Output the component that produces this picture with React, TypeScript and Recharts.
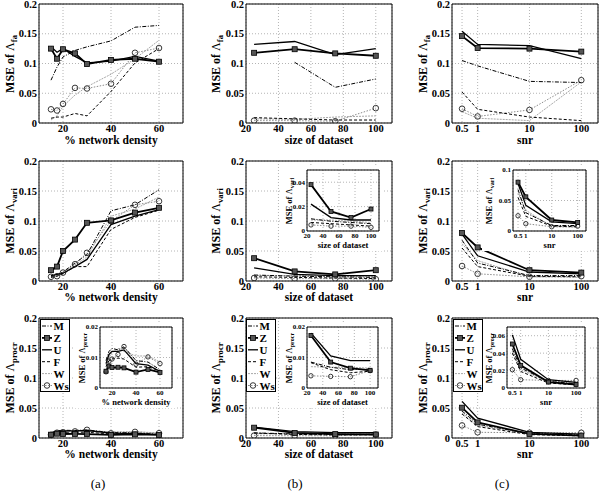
import React from 'react';
import { LineChart, Line, XAxis, YAxis, CartesianGrid, ReferenceArea } from 'recharts';

// x positions of the three sweeps
const densityX = [15, 17.5, 20, 25, 30, 40, 50, 60];
const datasetX = [25, 50, 75, 100];
const snrX = [0.5, 1, 10, 100];

const densityTicks = [20, 40, 60];
const datasetTicks = [20, 40, 60, 80, 100];
const snrTicks = [0.5, 1, 10, 100];
const mainYTicks = [0, 0.05, 0.1, 0.15, 0.2];

type Series = Record<string, (number | null)[]>;

// row 1 : MSE of Lambda_fa
const faDensity: Series = {
  M: [0.072, 0.094, 0.111, 0.122, 0.128, 0.138, 0.161, 0.164],
  Z: [0.125, 0.108, 0.124, 0.117, 0.099, 0.106, 0.108, 0.103],
  U: [0.128, 0.119, 0.125, 0.112, 0.101, 0.104, 0.112, 0.104],
  F: [0.008, 0.01, 0.01, 0.016, 0.012, 0.053, 0.101, 0.125],
  W: [0.005, 0.012, 0.028, 0.047, 0.061, 0.082, 0.108, 0.139],
  Ws: [0.023, 0.021, 0.032, 0.059, 0.058, 0.066, 0.118, 0.126],
};
const faDataset: Series = {
  M: [null, 0.102, 0.06, 0.074],
  Z: [0.118, 0.124, 0.117, 0.113],
  U: [0.132, 0.137, 0.115, 0.125],
  F: [0.009, 0.007, 0.005, 0.005],
  W: [0.007, 0.006, 0.01, 0.012],
  Ws: [0.004, 0.004, 0.003, 0.025],
};
const faSnr: Series = {
  M: [0.105, 0.096, 0.07, 0.068],
  Z: [0.146, 0.126, 0.125, 0.12],
  U: [0.154, 0.132, 0.13, 0.108],
  F: [0.052, 0.023, 0.01, 0.004],
  W: [0.019, 0.008, 0.004, 0.069],
  Ws: [0.024, 0.011, 0.022, 0.072],
};

// row 2 : MSE of Lambda_vari
const variDensity: Series = {
  M: [0.008, 0.01, 0.015, 0.03, 0.044, 0.117, 0.127, 0.152],
  Z: [0.018, 0.024, 0.05, 0.069, 0.097, 0.101, 0.114, 0.122],
  U: [0.009, 0.011, 0.013, 0.024, 0.036, 0.094, 0.108, 0.119],
  F: [0.006, 0.008, 0.012, 0.024, 0.024, 0.086, 0.106, 0.118],
  W: [0.007, 0.009, 0.014, 0.027, 0.04, 0.108, 0.12, 0.14],
  Ws: [0.007, 0.008, 0.014, 0.028, 0.047, 0.1, 0.127, 0.133],
};
const variDataset: Series = {
  M: [0.01, 0.008, 0.007, 0.006],
  Z: [0.038, 0.016, 0.011, 0.018],
  U: [0.022, 0.011, 0.009, 0.009],
  F: [0.007, 0.006, 0.005, 0.004],
  W: [0.009, 0.009, 0.008, 0.007],
  Ws: [0.005, 0.004, 0.004, 0.003],
};
const variSnr: Series = {
  M: [0.068, 0.03, 0.009, 0.009],
  Z: [0.08, 0.056, 0.018, 0.014],
  U: [0.078, 0.042, 0.015, 0.012],
  F: [0.055, 0.024, 0.008, 0.007],
  W: [0.062, 0.034, 0.007, 0.006],
  Ws: [0.025, 0.012, 0.007, 0.008],
};

// row 3 : MSE of Lambda_procr
const procrDensity: Series = {
  M: [0.009, 0.012, 0.013, 0.0125, 0.0135, 0.009, 0.0085, 0.006],
  Z: [0.0055, 0.0072, 0.0067, 0.0068, 0.0066, 0.0052, 0.0061, 0.0051],
  U: [0.008, 0.011, 0.012, 0.012, 0.0125, 0.008, 0.0075, 0.0055],
  F: [0.007, 0.009, 0.0095, 0.0098, 0.0095, 0.0068, 0.007, 0.0055],
  W: [0.0075, 0.01, 0.0115, 0.013, 0.012, 0.0105, 0.0105, 0.0085],
  Ws: [0.0053, 0.0088, 0.0095, 0.011, 0.0136, 0.0078, 0.0102, 0.008],
};
const procrDataset: Series = {
  M: [0.0085, 0.0068, 0.006, 0.0062],
  Z: [0.0172, 0.0085, 0.0065, 0.0058],
  U: [0.018, 0.0105, 0.009, 0.009],
  F: [0.0083, 0.006, 0.005, 0.0055],
  W: [0.007, 0.0068, 0.0068, 0.0065],
  Ws: [0.004, 0.0038, 0.0037, 0.0057],
};
const procrSnr: Series = {
  M: [0.045, 0.023, 0.0075, 0.005],
  Z: [0.0505, 0.026, 0.0068, 0.004],
  U: [0.061, 0.033, 0.0095, 0.0065],
  F: [0.04, 0.019, 0.0057, 0.0035],
  W: [0.042, 0.021, 0.007, 0.008],
  Ws: [0.021, 0.0095, 0.0087, 0.0087],
};

const FONT = '"Liberation Serif", "Times New Roman", serif';
const DRAW_ORDER = ['W', 'Ws', 'F', 'M', 'U', 'Z'];
const LEGEND_ORDER = ['M', 'Z', 'U', 'F', 'W', 'Ws'];

const STYLE: Record<string, { stroke: string; width: number; dash?: string }> = {
  M: { stroke: '#000', width: 1, dash: '4 1.5 1 1.5' },
  Z: { stroke: '#000', width: 1.8 },
  U: { stroke: '#000', width: 1.3 },
  F: { stroke: '#000', width: 1, dash: '3 2' },
  W: { stroke: '#a8a8a8', width: 1, dash: '2 1' },
  Ws: { stroke: '#8c8c8c', width: 1, dash: '1.5 1.5' },
};

const squareDot = (size: number) => (p: any) => {
  if (p.cx == null || p.cy == null || p.value == null) return <g key={p.index} />;
  return (
    <rect key={p.index} x={p.cx - size / 2} y={p.cy - size / 2} width={size} height={size}
      fill="#555" stroke="#000" strokeWidth={0.8} />
  );
};

const circleDot = (r: number) => (p: any) => {
  if (p.cx == null || p.cy == null || p.value == null) return <g key={p.index} />;
  return <circle key={p.index} cx={p.cx} cy={p.cy} r={r} fill="none" stroke="#222" strokeWidth={0.9} />;
};

interface PanelProps {
  left: number; top: number; w: number; h: number;
  xs: number[]; series: Series;
  xDomain: [number, number]; xTicks: number[]; log?: boolean;
  yDomain: [number, number]; yTicks: number[];
  small?: boolean;
}

const Panel = ({ left, top, w, h, xs, series, xDomain, xTicks, log, yDomain, yTicks, small }: PanelProps) => {
  const yw = small ? 24 : 34;
  const xh = small ? 10 : 14;
  const padT = 6;
  const padR = 8;
  const fs = small ? 7 : 10.5;
  const data = xs.map((x, i) => {
    const row: any = { x };
    DRAW_ORDER.forEach((k) => (row[k] = series[k][i]));
    return row;
  });
  const tick = { fontSize: fs, fontFamily: FONT, fontWeight: 700, fill: '#000' };
  return (
    <div style={{ position: 'absolute', left: left - yw, top: top - padT }}>
      <LineChart width={yw + w + padR} height={padT + h + xh} data={data}
        margin={{ top: padT, right: padR, left: 0, bottom: 0 }}>
        <CartesianGrid stroke="#b4b4b4" strokeDasharray="1 2" />
        <XAxis dataKey="x" type="number" scale={log ? 'log' : 'linear'} domain={xDomain} ticks={xTicks}
          allowDataOverflow interval={0} tickLine={false} axisLine={false} tick={tick}
          tickSize={1} tickMargin={1} height={xh} tickFormatter={(v: number) => String(v)} />
        <YAxis type="number" domain={yDomain} ticks={yTicks} allowDataOverflow interval={0}
          tickLine={false} axisLine={false} tick={tick} tickSize={1} tickMargin={1} width={yw}
          tickFormatter={(v: number) => String(v)} />
        <ReferenceArea x1={xDomain[0]} x2={xDomain[1]} y1={yDomain[0]} y2={yDomain[1]}
          fill="none" stroke="#000" strokeWidth={1} ifOverflow="visible" />
        {DRAW_ORDER.map((k) => (
          <Line key={k} dataKey={k} isAnimationActive={false} stroke={STYLE[k].stroke}
            strokeWidth={STYLE[k].width} strokeDasharray={STYLE[k].dash} connectNulls={false}
            dot={k === 'Z' ? squareDot(small ? 4 : 5) : k === 'Ws' ? circleDot(small ? 2.2 : 2.8) : false}
            activeDot={false} />
        ))}
      </LineChart>
    </div>
  );
};

const YTitle = ({ x, y, sub, size }: { x: number; y: number; sub: string; size: number }) => (
  <div style={{
    position: 'absolute', left: x, top: y, transform: 'translate(-50%,-50%) rotate(-90deg)',
    whiteSpace: 'nowrap', fontFamily: FONT, fontWeight: 700, fontSize: size, lineHeight: 1,
  }}>
    MSE of <span style={{ fontWeight: 400 }}>Λ</span>
    <span style={{ fontSize: '0.72em', position: 'relative', top: '0.35em' }}>{sub}</span>
  </div>
);

const XTitle = ({ x, y, text, size }: { x: number; y: number; text: string; size: number }) => (
  <div style={{
    position: 'absolute', left: x, top: y, transform: 'translate(-50%,-50%)',
    whiteSpace: 'nowrap', fontFamily: FONT, fontWeight: 700, fontSize: size, lineHeight: 1,
  }}>{text}</div>
);

const LegendBox = ({ left, top }: { left: number; top: number }) => (
  <svg style={{ position: 'absolute', left, top }} width={30} height={73}>
    <rect x={0.5} y={0.5} width={29} height={72} fill="#fff" stroke="#000" />
    {LEGEND_ORDER.map((k, i) => {
      const y = 7 + i * 11.9;
      return (
        <g key={k}>
          <line x1={2} x2={12} y1={y} y2={y} stroke={STYLE[k].stroke} strokeWidth={STYLE[k].width}
            strokeDasharray={STYLE[k].dash} />
          {k === 'Z' && <rect x={4.5} y={y - 2.5} width={5} height={5} fill="#555" stroke="#000" strokeWidth={0.8} />}
          {k === 'Ws' && <circle cx={7} cy={y} r={2.8} fill="none" stroke="#222" strokeWidth={0.9} />}
          <text x={13.5} y={y + 4} fontFamily={FONT} fontWeight={700} fontSize={11}>{k}</text>
        </g>
      );
    })}
  </svg>
);

const Inset = (props: PanelProps & { yTitleX: number; xTitleY: number; sub: string; xTitle: string }) => {
  const { left, top, w, h, yTitleX, xTitleY, sub, xTitle } = props;
  return (
    <>
      <div style={{
        position: 'absolute', left: yTitleX - 7, top: top - 5,
        width: left + w + 3 - (yTitleX - 7), height: xTitleY + 6 - (top - 5), background: '#fff',
      }} />
      <Panel {...props} small />
      <YTitle x={yTitleX} y={top + h / 2} sub={sub} size={8.5} />
      <XTitle x={left + w / 2} y={xTitleY} text={xTitle} size={8.5} />
    </>
  );
};

const COLS = [
  { left: 39, w: 144, xs: densityX, xDomain: [10, 70] as [number, number], xTicks: densityTicks, log: false, title: '% network density', yTitleX: 10 },
  { left: 246, w: 146, xs: datasetX, xDomain: [20, 110] as [number, number], xTicks: datasetTicks, log: false, title: 'size of dataset', yTitleX: 216 },
  { left: 452, w: 146, xs: snrX, xDomain: [0.32, 210] as [number, number], xTicks: snrTicks, log: true, title: 'snr', yTitleX: 423 },
];

const ROWS = [
  { top: 4, sub: 'fa', titleY: 141, data: [faDensity, faDataset, faSnr] },
  { top: 161, sub: 'vari', titleY: 297.5, data: [variDensity, variDataset, variSnr] },
  { top: 318, sub: 'procr', titleY: 454.5, data: [procrDensity, procrDataset, procrSnr] },
];

export default function App() {
  return (
    <div style={{ position: 'absolute', left: 0, top: 0, width: 600, height: 491, background: '#fff', overflow: 'hidden' }}>
      {ROWS.map((r, ri) =>
        COLS.map((c, ci) => (
          <React.Fragment key={`${ri}-${ci}`}>
            <Panel left={c.left} top={r.top} w={c.w} h={ri === 0 ? 119 : 120} xs={c.xs} series={r.data[ci]}
              xDomain={c.xDomain} xTicks={c.xTicks} log={c.log} yDomain={[0, 0.2]} yTicks={mainYTicks} />
            <YTitle x={c.yTitleX} y={r.top + 60} sub={r.sub} size={12} />
            <XTitle x={c.left + c.w / 2} y={r.titleY} text={c.title} size={11.5} />
          </React.Fragment>
        ))
      )}

      <Inset left={307} top={170} w={72} h={61} xs={datasetX} series={variDataset} xDomain={[20, 110]}
        xTicks={datasetTicks} yDomain={[0, 0.05]} yTicks={[0, 0.02, 0.04]}
        yTitleX={289} xTitleY={244.5} sub="vari" xTitle="size of dataset" />
      <Inset left={513} top={170} w={73} h={61} xs={snrX} series={variSnr} xDomain={[0.32, 210]} log
        xTicks={snrTicks} yDomain={[0, 0.1]} yTicks={[0, 0.05, 0.1]}
        yTitleX={489} xTitleY={244.5} sub="vari" xTitle="snr" />
      <Inset left={100} top={327} w={72} h={61} xs={densityX} series={procrDensity} xDomain={[10, 70]}
        xTicks={densityTicks} yDomain={[0, 0.02]} yTicks={[0, 0.01, 0.02]}
        yTitleX={82} xTitleY={402} sub="procr" xTitle="% network density" />
      <Inset left={307} top={327} w={71} h={61} xs={datasetX} series={procrDataset} xDomain={[20, 110]}
        xTicks={datasetTicks} yDomain={[0, 0.02]} yTicks={[0, 0.01, 0.02]}
        yTitleX={289} xTitleY={402} sub="procr" xTitle="size of dataset" />
      <Inset left={507} top={327} w={78} h={61} xs={snrX} series={procrSnr} xDomain={[0.32, 210]} log
        xTicks={snrTicks} yDomain={[0, 0.07]} yTicks={[0, 0.02, 0.04, 0.06]}
        yTitleX={489} xTitleY={402} sub="procr" xTitle="snr" />

      <LegendBox left={40} top={319} />
      <LegendBox left={246} top={319} />
      <LegendBox left={453} top={319} />

      {[['(a)', 98], ['(b)', 295], ['(c)', 502]].map(([t, x]) => (
        <div key={t as string} style={{
          position: 'absolute', left: x as number, top: 483, transform: 'translate(-50%,-50%)',
          fontFamily: FONT, fontSize: 13, lineHeight: 1,
        }}>{t}</div>
      ))}
    </div>
  );
}
